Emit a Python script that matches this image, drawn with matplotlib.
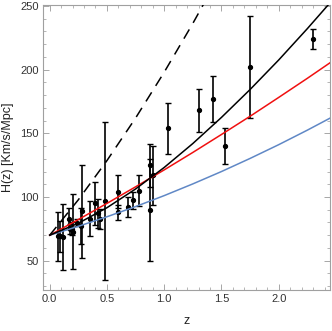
import matplotlib
matplotlib.use('Agg')
import matplotlib.pyplot as plt
from matplotlib.ticker import MultipleLocator

plt.rcParams['font.family'] = ['Liberation Sans', 'DejaVu Sans']

z_obs = [0.07, 0.09, 0.12, 0.17, 0.179, 0.199, 0.20, 0.24, 0.27, 0.28, 0.352, 0.40,
         0.4247, 0.44, 0.48, 0.593, 0.60, 0.68, 0.73, 0.781, 0.875, 0.88, 0.90,
         1.037, 1.30, 1.43, 1.53, 1.75, 2.30]
H_obs = [69, 69, 68.6, 83, 75, 75, 72.9, 79.7, 77, 88.8, 83, 95,
         87.1, 82.6, 97, 104, 87.9, 92, 97.3, 105, 125, 90, 117,
         154, 168, 177, 140, 202, 224]
H_err = [19.6, 12, 26.2, 8, 4, 5, 29.6, 2.7, 14, 36.6, 14, 17,
         11.2, 7.8, 62, 13, 6.1, 8, 7, 12, 17, 40, 23,
         20, 17, 18, 14, 40, 8]

# model curves
z_curve = [0.0, 0.25, 0.5, 0.75, 1.0, 1.25, 1.5, 1.75, 2.0, 2.25, 2.5]
H_black = [70, 79.4, 91.6, 106.3, 123.2, 142.0, 162.5, 184.4, 207.6, 232.2, 257.8]
H_red = [70, 82.3, 95.0, 108.0, 121.3, 135.0, 149.1, 163.4, 178.2, 193.2, 208.6]
H_blue = [70, 77.0, 84.5, 92.5, 101.1, 110.3, 120.0, 130.3, 141.1, 152.5, 164.4]
z_dash = [0.0, 0.25, 0.5, 0.75, 1.0, 1.25, 1.5]
H_dash = [70, 97.8, 128.6, 162.0, 198.0, 236.3, 276.7]

fig = plt.figure(figsize=(3.32, 3.31), dpi=100)
ax = fig.add_axes([0.1286, 0.1239, 0.994 - 0.1286, 0.985 - 0.1239])

ax.errorbar(z_obs, H_obs, yerr=H_err, fmt='o', color='black', ms=2.8, lw=1.2,
            capsize=2, capthick=1.0, zorder=2)

ax.plot(z_curve, H_blue, color='#6088c6', lw=1.1, zorder=3)
ax.plot(z_curve, H_red, color='#f01010', lw=1.1, zorder=3)
ax.plot(z_curve, H_black, color='black', lw=1.1, zorder=3)
ax.plot(z_dash, H_dash, color='black', lw=1.1, ls=(0, (7, 5)), zorder=3)

ax.set_xlim(-0.061, 2.448)
ax.set_ylim(27, 250.8)

ax.xaxis.set_major_locator(MultipleLocator(0.5))
ax.xaxis.set_minor_locator(MultipleLocator(0.1))
ax.yaxis.set_major_locator(MultipleLocator(50))
ax.yaxis.set_minor_locator(MultipleLocator(10))
ax.xaxis.set_major_formatter(plt.FuncFormatter(lambda v, p: f'{v:.1f}'))

ax.tick_params(which='both', direction='in', top=True, right=True,
               color='#999999', labelsize=8, labelcolor='#333333', pad=3)
ax.tick_params(which='major', length=4, width=0.6)
ax.tick_params(which='minor', length=2, width=0.5)
for s in ax.spines.values():
    s.set_color('#a0a0a0')
    s.set_linewidth(0.8)

ax.set_xlabel('z', fontsize=9, color='#222222', labelpad=8)
ax.set_ylabel('H(z) [Km/s/Mpc]', fontsize=9, color='#222222', labelpad=4)

fig.savefig('out.png', dpi=100)
